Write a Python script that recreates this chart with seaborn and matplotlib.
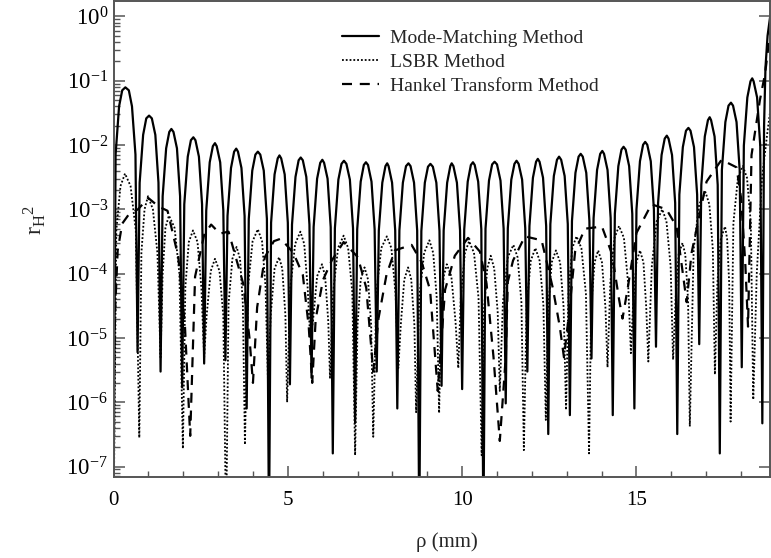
import numpy as np
import pandas as pd
import matplotlib
matplotlib.use("Agg")
import matplotlib.pyplot as plt
import matplotlib.ticker as mticker
import seaborn as sns

# ---------------- data ----------------
# Mode-Matching Method (solid)
mm_x = [0.00, 0.06, 0.16, 0.25, 0.34, 0.44, 0.53, 0.63, 0.69,
        0.75, 0.85, 0.94, 1.02, 1.10, 1.20, 1.29, 1.35,
        1.41, 1.51, 1.60, 1.66, 1.72, 1.82, 1.91, 1.97,
        2.03, 2.13, 2.22, 2.29, 2.35, 2.45, 2.54, 2.60,
        2.66, 2.76, 2.85, 2.91, 2.96, 3.06, 3.15, 3.21,
        3.27, 3.37, 3.46, 3.52, 3.57, 3.67, 3.76, 3.82,
        3.88, 3.98, 4.07, 4.14, 4.21, 4.31, 4.40, 4.46,
        4.52, 4.62, 4.71, 4.76, 4.81, 4.91, 5.00, 5.06,
        5.12, 5.22, 5.31, 5.37, 5.43, 5.53, 5.62, 5.68,
        5.74, 5.84, 5.93, 5.99, 6.04, 6.14, 6.23, 6.29,
        6.35, 6.45, 6.54, 6.61, 6.68, 6.78, 6.87, 6.93,
        6.99, 7.09, 7.18, 7.24, 7.30, 7.40, 7.49, 7.55,
        7.61, 7.71, 7.80, 7.85, 7.89, 7.99, 8.08, 8.14,
        8.20, 8.30, 8.39, 8.46, 8.52, 8.62, 8.71, 8.77,
        8.83, 8.93, 9.02, 9.09, 9.16, 9.26, 9.35, 9.41,
        9.47, 9.57, 9.66, 9.70, 9.75, 9.85, 9.94, 10.00,
        10.06, 10.16, 10.25, 10.31, 10.36, 10.46, 10.55, 10.61,
        10.67, 10.77, 10.86, 10.93, 11.00, 11.10, 11.19, 11.25,
        11.31, 11.41, 11.50, 11.56, 11.62, 11.72, 11.81, 11.87,
        11.93, 12.03, 12.12, 12.17, 12.22, 12.32, 12.41, 12.47,
        12.53, 12.63, 12.72, 12.78, 12.84, 12.94, 13.03, 13.09,
        13.15, 13.25, 13.34, 13.40, 13.46, 13.56, 13.65, 13.71,
        13.77, 13.87, 13.96, 14.02, 14.07, 14.17, 14.26, 14.32,
        14.38, 14.48, 14.57, 14.63, 14.69, 14.79, 14.88, 14.94,
        15.00, 15.10, 15.19, 15.25, 15.31, 15.41, 15.50, 15.56,
        15.62, 15.72, 15.81, 15.87, 15.92, 16.02, 16.11, 16.17,
        16.23, 16.33, 16.42, 16.49, 16.55, 16.65, 16.74, 16.80,
        16.86, 16.96, 17.05, 17.10, 17.14, 17.24, 17.33, 17.39,
        17.45, 17.55, 17.64, 17.71, 17.77, 17.87, 17.96, 18.02,
        18.08, 18.18, 18.27, 18.32, 18.36, 18.46, 18.55, 18.61,
        18.66, 18.70, 18.76, 18.84]
mm_y = [2e-8, 0.0071, 0.040, 0.071, 0.079, 0.071, 0.040, 0.0071, 6.0e-6,
        0.0026, 0.0144, 0.026, 0.0287, 0.026, 0.0144, 0.0026, 3.0e-6,
        0.0016, 0.0089, 0.016, 0.0178, 0.016, 0.0089, 0.0016, 1.7e-6,
        0.0012, 0.0066, 0.0119, 0.0132, 0.0119, 0.0066, 0.0012, 4.0e-6,
        0.00096, 0.0054, 0.0096, 0.0107, 0.0096, 0.0054, 0.00096, 4.5e-6,
        0.00079, 0.0044, 0.0079, 0.0088, 0.0079, 0.0044, 0.00079, 8.0e-7,
        0.00071, 0.0040, 0.0071, 0.0079, 0.0071, 0.0040, 0.00071, 1e-8,
        0.00062, 0.0035, 0.0062, 0.0069, 0.0062, 0.0035, 0.00062, 1.9e-6,
        0.00058, 0.0032, 0.0058, 0.0064, 0.0058, 0.0032, 0.00058, 2.4e-6,
        0.00053, 0.0030, 0.0053, 0.0059, 0.0053, 0.0030, 0.00053, 1.6e-7,
        0.00051, 0.0029, 0.0051, 0.0057, 0.0051, 0.0029, 0.00051, 4.8e-7,
        0.00049, 0.0027, 0.0049, 0.0054, 0.0049, 0.0027, 0.00049, 3.0e-6,
        0.00047, 0.0026, 0.0047, 0.0052, 0.0047, 0.0026, 0.00047, 8.0e-7,
        0.00047, 0.0026, 0.0047, 0.0052, 0.0047, 0.0026, 0.00047, 1e-8,
        0.00046, 0.0026, 0.0046, 0.0051, 0.0046, 0.0026, 0.00046, 1.8e-6,
        0.00047, 0.0026, 0.0047, 0.0052, 0.0047, 0.0026, 0.00047, 1.6e-6,
        0.00049, 0.0027, 0.0049, 0.0054, 0.0049, 0.0027, 0.00049, 1e-8,
        0.00050, 0.0028, 0.0050, 0.0055, 0.0050, 0.0028, 0.00050, 9.6e-7,
        0.00051, 0.0029, 0.0051, 0.0057, 0.0051, 0.0029, 0.00051, 3.0e-6,
        0.00055, 0.0031, 0.0055, 0.0061, 0.0055, 0.0031, 0.00055, 3.2e-7,
        0.00059, 0.0033, 0.0059, 0.0066, 0.0059, 0.0033, 0.00059, 6.3e-7,
        0.00066, 0.0037, 0.0066, 0.0073, 0.0066, 0.0037, 0.00066, 4.8e-6,
        0.00073, 0.0041, 0.0073, 0.0081, 0.0073, 0.0041, 0.00073, 6.3e-7,
        0.00085, 0.0047, 0.0085, 0.0094, 0.0085, 0.0047, 0.00085, 8.0e-7,
        0.0010, 0.0056, 0.0101, 0.0112, 0.0101, 0.0056, 0.0010, 7.3e-6,
        0.00126, 0.0070, 0.0126, 0.0140, 0.0126, 0.0070, 0.00126, 3.2e-7,
        0.0017, 0.0093, 0.0167, 0.0185, 0.0167, 0.0093, 0.0017, 8.0e-6,
        0.0024, 0.0136, 0.0244, 0.0271, 0.0244, 0.0136, 0.0024, 1.6e-7,
        0.0041, 0.0228, 0.041, 0.0456, 0.041, 0.0228, 0.0041, 3.5e-6,
        0.0098, 0.055, 0.098, 0.109, 0.098, 0.055, 0.0098, 4.7e-7,
        0.02, 0.16, 0.5, 1.05]

# LSBR Method (dotted)
ls_x = [0.00, 0.08, 0.20, 0.33, 0.49, 0.64, 0.74,
        0.80, 0.89, 0.99, 1.13, 1.26, 1.35,
        1.41, 1.49, 1.59, 1.75, 1.89, 1.99,
        2.06, 2.16, 2.28, 2.41, 2.52, 2.60,
        2.67, 2.79, 2.91, 3.04, 3.15, 3.23,
        3.30, 3.41, 3.53, 3.63, 3.71, 3.77,
        3.86, 3.99, 4.14, 4.26, 4.36, 4.43,
        4.51, 4.62, 4.75, 4.84, 4.93, 4.98,
        5.07, 5.21, 5.36, 5.47, 5.57, 5.64,
        5.72, 5.84, 5.98, 6.07, 6.16, 6.21,
        6.30, 6.44, 6.60, 6.73, 6.85, 6.93,
        7.00, 7.09, 7.20, 7.30, 7.39, 7.45,
        7.54, 7.68, 7.84, 7.97, 8.09, 8.17,
        8.24, 8.34, 8.45, 8.54, 8.63, 8.68,
        8.77, 8.91, 9.06, 9.17, 9.27, 9.34,
        9.39, 9.47, 9.56, 9.69, 9.81, 9.89,
        9.96, 10.08, 10.20, 10.34, 10.47, 10.56,
        10.62, 10.72, 10.82, 10.92, 11.02, 11.08,
        11.17, 11.31, 11.47, 11.59, 11.70, 11.77,
        11.85, 11.97, 12.10, 12.22, 12.33, 12.40,
        12.47, 12.57, 12.69, 12.81, 12.91, 12.98,
        13.05, 13.16, 13.28, 13.42, 13.55, 13.64,
        13.70, 13.80, 13.90, 14.01, 14.11, 14.17,
        14.25, 14.37, 14.50, 14.64, 14.76, 14.84,
        14.90, 15.00, 15.10, 15.20, 15.28, 15.34,
        15.44, 15.58, 15.74, 15.86, 15.98, 16.05,
        16.12, 16.21, 16.32, 16.40, 16.48, 16.53,
        16.64, 16.80, 16.98, 17.09, 17.19, 17.25,
        17.32, 17.42, 17.54, 17.60, 17.66, 17.70,
        17.78, 17.91, 18.05, 18.17, 18.28, 18.35,
        18.45, 18.60, 18.75, 18.84]
ls_y = [1e-8, 4.7e-4, 2.3e-3, 3.6e-3, 2.3e-3, 4.7e-4, 2.8e-7,
        2.1e-4, 1.0e-3, 1.6e-3, 1.0e-3, 2.1e-4, 5.0e-6,
        1.0e-4, 5.2e-4, 8.0e-4, 5.2e-4, 1.0e-4, 1.9e-7,
        6.1e-5, 3.1e-4, 4.7e-4, 3.1e-4, 6.1e-5, 5.0e-6,
        2.2e-5, 1.1e-4, 1.7e-4, 1.1e-4, 2.2e-5, 1e-8,
        3.4e-5, 1.7e-4, 2.6e-4, 1.7e-4, 3.4e-5, 2.2e-7,
        6.4e-5, 3.2e-4, 4.9e-4, 3.2e-4, 6.4e-5, 2.2e-6,
        2.3e-5, 1.2e-4, 1.8e-4, 1.2e-4, 2.3e-5, 1.0e-6,
        5.9e-5, 2.9e-4, 4.5e-4, 2.9e-4, 5.9e-5, 1.0e-5,
        1.8e-5, 9.1e-5, 1.4e-4, 9.1e-5, 1.8e-5, 2.4e-6,
        5.1e-5, 2.5e-4, 3.9e-4, 2.5e-4, 5.1e-5, 1.5e-7,
        1.6e-5, 8.1e-5, 1.25e-4, 8.1e-5, 1.6e-5, 2.9e-7,
        4.9e-5, 2.5e-4, 3.8e-4, 2.5e-4, 4.9e-5, 3.4e-6,
        1.6e-5, 8.1e-5, 1.25e-4, 8.1e-5, 1.6e-5, 7.0e-7,
        4.3e-5, 2.1e-4, 3.3e-4, 2.1e-4, 4.3e-5, 6.8e-7,
        1.8e-5, 9.1e-5, 1.4e-4, 9.1e-5, 1.8e-5, 3.4e-6,
        4.2e-5, 2.1e-4, 3.2e-4, 2.1e-4, 4.2e-5, 1.5e-7,
        2.5e-5, 1.2e-4, 1.9e-4, 1.2e-4, 2.5e-5, 1.5e-6,
        3.6e-5, 1.8e-4, 2.8e-4, 1.8e-4, 3.6e-5, 1.8e-7,
        3.3e-5, 1.6e-4, 2.5e-4, 1.6e-4, 3.3e-5, 5.3e-7,
        3.0e-5, 1.5e-4, 2.3e-4, 1.5e-4, 3.0e-5, 7.6e-7,
        4.9e-5, 2.5e-4, 3.8e-4, 2.5e-4, 4.9e-5, 1.6e-7,
        3.0e-5, 1.5e-4, 2.3e-4, 1.5e-4, 3.0e-5, 3.5e-6,
        7.2e-5, 3.6e-4, 5.5e-4, 3.6e-4, 7.2e-5, 5.8e-6,
        3.0e-5, 1.5e-4, 2.3e-4, 1.5e-4, 3.0e-5, 4.3e-6,
        1.3e-4, 6.5e-4, 1.0e-3, 6.5e-4, 1.3e-4, 4.6e-6,
        3.9e-5, 2.0e-4, 3.0e-4, 2.0e-4, 3.9e-5, 4.2e-7,
        2.4e-4, 1.2e-3, 1.85e-3, 1.2e-3, 2.4e-4, 2.7e-6,
        7.0e-5, 3.5e-4, 5.4e-4, 3.5e-4, 7.0e-5, 5.0e-7,
        6.1e-4, 3.1e-3, 4.7e-3, 3.1e-3, 6.1e-4, 1.1e-6,
        1.0e-4, 3.0e-3, 0.015, 0.035]

# Hankel Transform Method (dashed)
hk_x = [0.00, 0.05, 0.12, 0.25, 0.45, 0.70, 1.00, 1.30, 1.55, 1.86,
        2.05, 2.20, 2.34, 2.60, 2.80, 3.05, 3.30, 3.72, 3.90, 4.00,
        4.12, 4.34, 4.60, 4.80, 5.16, 5.43, 5.60, 5.70, 5.80, 6.01,
        6.26, 6.60, 7.01, 7.25, 7.45, 7.60, 7.83, 8.07, 8.55, 8.84,
        9.08, 9.30, 9.51, 9.79, 10.17, 10.51, 10.70, 10.90, 11.08, 11.25,
        11.31, 11.46, 11.80, 12.28, 12.60, 12.80, 12.92, 13.05, 13.24, 13.52,
        14.01, 14.30, 14.50, 14.60, 14.75, 15.00, 15.43, 15.86, 16.15, 16.44,
        16.58, 16.82, 17.01, 17.44, 17.87, 18.00, 18.12, 18.20, 18.30, 18.54,
        18.69, 18.84]
hk_y = [2e-6, 3e-5, 2.3e-4, 6e-4, 8.5e-4, 1.0e-3, 1.5e-3, 1.1e-3, 9.5e-4, 1.8e-4,
        1.5e-5, 3e-7, 9e-5, 4e-4, 5.8e-4, 4.2e-4, 4.5e-4, 7e-5, 1e-5, 2e-6,
        3e-5, 1.8e-4, 3.2e-4, 3.5e-4, 2.1e-4, 9.6e-5, 1.5e-5, 2e-6, 2e-5, 8e-5,
        1.6e-4, 3.1e-4, 1.8e-4, 6e-5, 3e-6, 2e-5, 9.6e-5, 2.3e-4, 2.8e-4, 1.5e-4,
        5.6e-5, 1.5e-6, 5.6e-5, 1.9e-4, 3.6e-4, 2.2e-4, 7e-5, 5e-6, 2.5e-7, 5e-6,
        7.5e-5, 1.6e-4, 3.8e-4, 3.3e-4, 6e-5, 1.5e-5, 5e-6, 2e-5, 2.2e-4, 5e-4,
        5.4e-4, 2e-4, 4e-5, 2e-5, 6e-5, 4.3e-4, 1.2e-3, 1.0e-3, 5.4e-4, 3.6e-5,
        2.1e-4, 8.8e-4, 2.7e-3, 5.9e-3, 4.5e-3, 1.5e-3, 1.5e-4, 1.5e-5, 7e-3, 0.05,
        0.13, 0.6]

series_names = ["Mode-Matching Method", "LSBR Method", "Hankel Transform Method"]
x_ticks = [0, 5, 10, 15]
y_ticks = [1e-7, 1e-6, 1e-5, 1e-4, 1e-3, 1e-2, 1e-1, 1e0]
x_label = "ρ (mm)"
y_label = r"$\mathregular{r_H{}^2}$"

# ---------------- styling ----------------
sns.set_style("ticks")
plt.rcParams["font.family"] = ["Liberation Serif", "DejaVu Serif"]
plt.rcParams["mathtext.fontset"] = "custom"
plt.rcParams["mathtext.rm"] = "Liberation Serif"
plt.rcParams["mathtext.it"] = "Liberation Serif:italic"
plt.rcParams["axes.unicode_minus"] = False

fig = plt.figure(figsize=(7.71, 5.58), dpi=100)
ax = fig.add_axes([113.5 / 771, (558 - 477.3) / 558, 656.5 / 771, 476.3 / 558])
ax.set_yscale("log")

styles = [
    dict(linewidth=1.6, linestyle="-"),
    dict(linewidth=1.3, linestyle=(0, (1, 1.1))),
    dict(linewidth=1.6, linestyle=(0, (4.5, 3.5))),
]
datasets = [(mm_x, mm_y), (ls_x, ls_y), (hk_x, hk_y)]
for (xs, ys), name, st in zip(datasets, series_names, styles):
    assert len(xs) == len(ys)
    df = pd.DataFrame({"x": xs, "y": ys})
    sns.lineplot(data=df, x="x", y="y", ax=ax, sort=False, estimator=None,
                 color="black", label=name, legend=False, **st)

ax.set_xlim(0, 18.83)
ax.set_ylim(6.8e-8, 1.74)

ax.xaxis.set_major_locator(mticker.FixedLocator(x_ticks))
ax.xaxis.set_minor_locator(mticker.MultipleLocator(1))
ax.yaxis.set_major_locator(mticker.FixedLocator(y_ticks))
ax.yaxis.set_major_formatter(mticker.LogFormatterSciNotation())
ax.yaxis.set_minor_locator(mticker.LogLocator(base=10, subs=np.arange(2, 10), numticks=20))
ax.yaxis.set_minor_formatter(mticker.NullFormatter())

spine_color = "#555555"
for s in ax.spines.values():
    s.set_color(spine_color)
    s.set_linewidth(1.4)

ax.tick_params(axis="both", which="both", direction="in", colors=spine_color,
               labelcolor="black")
ax.tick_params(axis="x", which="major", labelsize=15)
ax.tick_params(axis="y", which="major", labelsize=16.5)
ax.tick_params(axis="both", which="major", length=8, width=1.1)
ax.tick_params(axis="both", which="minor", length=4.5, width=1.0)
ax.tick_params(axis="x", which="both", pad=10, top=False)
ax.tick_params(axis="y", which="major", right=True, pad=4)
ax.tick_params(axis="y", which="minor", right=False)

ax.set_xlabel(x_label, fontsize=15)
ax.set_ylabel(y_label, fontsize=17, rotation=90)
ax.xaxis.set_label_coords(0.508, -0.115)
ax.yaxis.set_label_coords(-0.10, 0.54)

handles = ax.get_lines()[:3]
ax.legend(handles, series_names, loc="upper left", bbox_to_anchor=(0.348, 0.94),
          frameon=False, fontsize=14, handlelength=1.9, handletextpad=0.55,
          labelspacing=0.33, borderpad=0, borderaxespad=0)

fig.savefig("out.png", dpi=100)
